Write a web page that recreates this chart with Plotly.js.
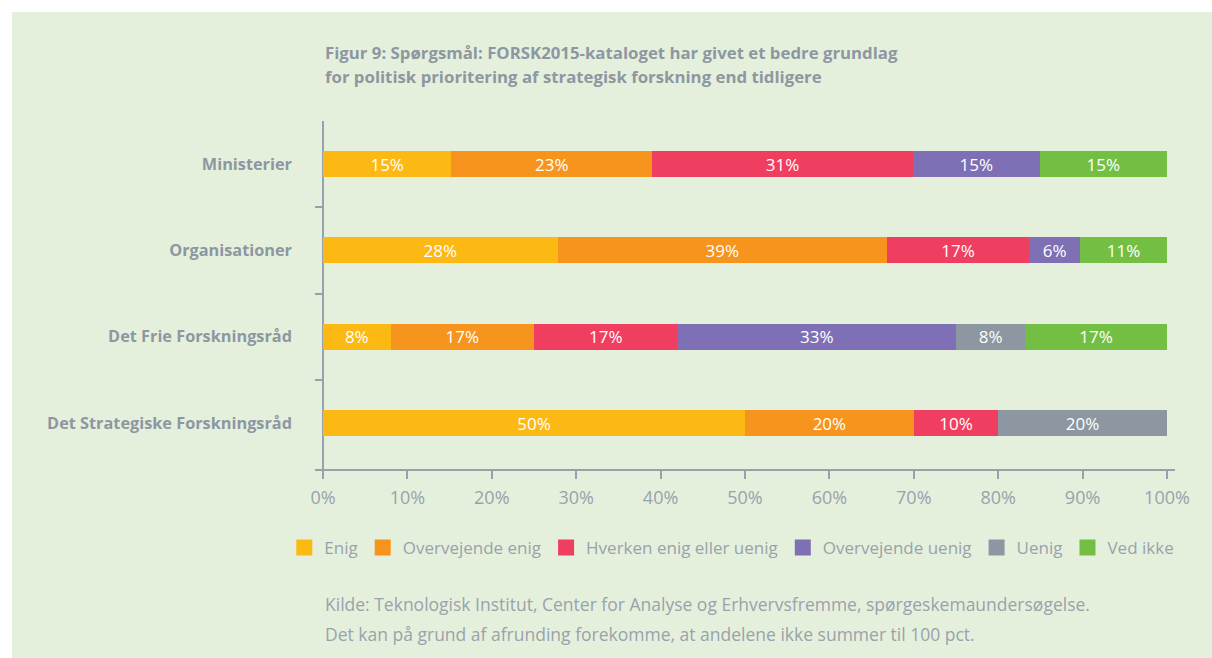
<!DOCTYPE html>
<html>
<head>
<meta charset="utf-8">
<script src="https://cdn.plot.ly/plotly-3.0.1.min.js"></script>
<style>
html,body{margin:0;padding:0;background:#ffffff;}
#chart{width:1212px;height:658px;}
</style>
</head>
<body>
<div id="chart"></div>
<script>
// Categories (top to bottom)
const categories = ['Ministerier', 'Organisationer', 'Det Frie Forskningsråd', 'Det Strategiske Forskningsråd'];

// Series names
const seriesNames = ['Enig', 'Overvejende enig', 'Hverken enig eller uenig', 'Overvejende uenig', 'Uenig', 'Ved ikke'];

// Values (share in %) per series, in category order
const enig            = [15.2, 27.8,  8.0, 50.0];
const overvejendeEnig = [23.8, 39.0, 17.0, 20.0];
const hverken         = [30.9, 16.9, 17.0, 10.0];
const overvejendeUenig= [15.0,  6.0, 33.0,  0.0];
const uenig           = [ 0.0,  0.0,  8.2, 20.0];
const vedIkke         = [15.1, 10.3, 16.8,  0.0];

// Labels printed in the bars
const enigLabels            = ['15%', '28%', '8%', '50%'];
const overvejendeEnigLabels = ['23%', '39%', '17%', '20%'];
const hverkenLabels         = ['31%', '17%', '17%', '10%'];
const overvejendeUenigLabels= ['15%', '6%', '33%', ''];
const uenigLabels           = ['', '', '8%', '20%'];
const vedIkkeLabels         = ['15%', '11%', '17%', ''];

// Axis ticks
const xTickVals = [0, 10, 20, 30, 40, 50, 60, 70, 80, 90, 100];
const xTickText = ['0%', '10%', '20%', '30%', '40%', '50%', '60%', '70%', '80%', '90%', '100%'];
const topTickVals = [10, 20, 30, 40, 50, 60, 70, 80, 90, 100];

const titleLines = [
  'Figur 9: Spørgsmål: FORSK2015-kataloget har givet et bedre grundlag',
  'for politisk prioritering af strategisk forskning end tidligere'
];
const noteLines = [
  'Kilde: Teknologisk Institut, Center for Analyse og Erhvervsfremme, spørgeskemaundersøgelse.',
  'Det kan på grund af afrunding forekomme, at andelene ikke summer til 100 pct.'
];

const colors = ['#fdb913', '#f7941d', '#f03e60', '#7f6fb4', '#8c97a1', '#72bf44'];
const allValues = [enig, overvejendeEnig, hverken, overvejendeUenig, uenig, vedIkke];
const allLabels = [enigLabels, overvejendeEnigLabels, hverkenLabels, overvejendeUenigLabels, uenigLabels, vedIkkeLabels];

const gray = '#97a1ab';
const textGray = '#99a2ac';
const bodyFont = 'Open Sans, Lato, DejaVu Sans, sans-serif';
const boldFont = 'Open Sans, Roboto, sans-serif';

const traces = [];
seriesNames.forEach((name, i) => {
  traces.push({
    type: 'bar',
    orientation: 'h',
    name: name,
    y: categories,
    x: allValues[i],
    text: allLabels[i],
    textposition: 'inside',
    insidetextanchor: 'middle',
    textangle: 0,
    constraintext: 'none',
    textfont: {color: '#ffffff', size: 17, family: bodyFont},
    marker: {color: colors[i], line: {width: 0}},
    width: 0.3,
    showlegend: false,
    hoverinfo: 'skip'
  });
});
// legend entries
seriesNames.forEach((name, i) => {
  traces.push({
    type: 'scatter',
    mode: 'markers',
    name: name,
    x: [null],
    y: [null],
    marker: {symbol: 'square', size: 16, color: colors[i]},
    showlegend: true,
    hoverinfo: 'skip'
  });
});

const layout = {
  width: 1212,
  height: 658,
  autosize: false,
  margin: {l: 315, r: 37, t: 121, b: 189, pad: 0},
  paper_bgcolor: '#ffffff',
  plot_bgcolor: 'rgba(0,0,0,0)',
  barmode: 'stack',
  showlegend: true,
  font: {family: bodyFont, color: textGray},
  xaxis: {
    range: [-0.95, 100.95],
    tickmode: 'array',
    tickvals: xTickVals,
    ticktext: xTickText,
    ticks: 'outside',
    ticklen: 8,
    tickwidth: 2,
    tickcolor: gray,
    showline: true,
    linecolor: gray,
    linewidth: 2,
    showgrid: false,
    zeroline: true,
    zerolinecolor: gray,
    zerolinewidth: 2,
    ticklabelstandoff: 3,
    tickfont: {size: 18, color: textGray, family: bodyFont},
    fixedrange: true
  },
  xaxis2: {
    overlaying: 'x',
    anchor: 'y',
    side: 'bottom',
    range: [-0.95, 100.95],
    tickmode: 'array',
    tickvals: xTickVals,
    ticks: 'inside',
    ticklen: 8,
    tickwidth: 2,
    tickcolor: gray,
    showline: false,
    showgrid: false,
    zeroline: false,
    showticklabels: false
  },
  xaxis3: {
    overlaying: 'x',
    anchor: 'free',
    position: 0.9828,
    side: 'top',
    range: [-0.95, 100.95],
    tickmode: 'array',
    tickvals: topTickVals,
    ticks: 'inside',
    ticklen: 13,
    tickwidth: 2,
    tickcolor: gray,
    showline: false,
    showgrid: false,
    zeroline: false,
    showticklabels: false
  },
  yaxis: {
    type: 'category',
    categoryorder: 'array',
    categoryarray: categories,
    range: [3.533, -0.5],
    ticks: 'inside',
    tickson: 'boundaries',
    ticklen: 8,
    tickwidth: 2,
    tickcolor: gray,
    showline: false,
    showgrid: false,
    zeroline: false,
    ticklabelstandoff: 22,
    tickfont: {size: 16.3, color: '#8d97a2', family: boldFont, weight: 700},
    fixedrange: true
  },
  legend: {
    orientation: 'h',
    traceorder: 'normal',
    x: -0.0357,
    xanchor: 'left',
    y: -0.227,
    yanchor: 'middle',
    font: {size: 17, color: textGray, family: bodyFont},
    bgcolor: 'rgba(0,0,0,0)',
    itemclick: false,
    itemdoubleclick: false
  },
  shapes: [{
    type: 'rect',
    xref: 'paper', yref: 'paper',
    x0: -0.3523, x1: 1.06, y0: -0.6, y1: 1.3132,
    fillcolor: '#e5f0dc',
    line: {width: 0},
    layer: 'below'
  }],
  annotations: [
    {text: titleLines[0], xref: 'paper', yref: 'paper', x: 0.0093, y: 1.198, xanchor: 'left', yanchor: 'middle', showarrow: false,
     font: {size: 16.8, color: '#8d97a2', family: boldFont, weight: 700}},
    {text: titleLines[1], xref: 'paper', yref: 'paper', x: 0.0093, y: 1.129, xanchor: 'left', yanchor: 'middle', showarrow: false,
     font: {size: 16.8, color: '#8d97a2', family: boldFont, weight: 700}},
    {text: noteLines[0], xref: 'paper', yref: 'paper', x: 0.0093, y: -0.388, xanchor: 'left', yanchor: 'middle', showarrow: false,
     font: {size: 17.5, color: textGray, family: bodyFont}},
    {text: noteLines[1], xref: 'paper', yref: 'paper', x: 0.0093, y: -0.474, xanchor: 'left', yanchor: 'middle', showarrow: false,
     font: {size: 17.5, color: textGray, family: bodyFont}}
  ]
};

Plotly.newPlot('chart', traces, layout, {displayModeBar: false, staticPlot: true});
</script>
</body>
</html>
